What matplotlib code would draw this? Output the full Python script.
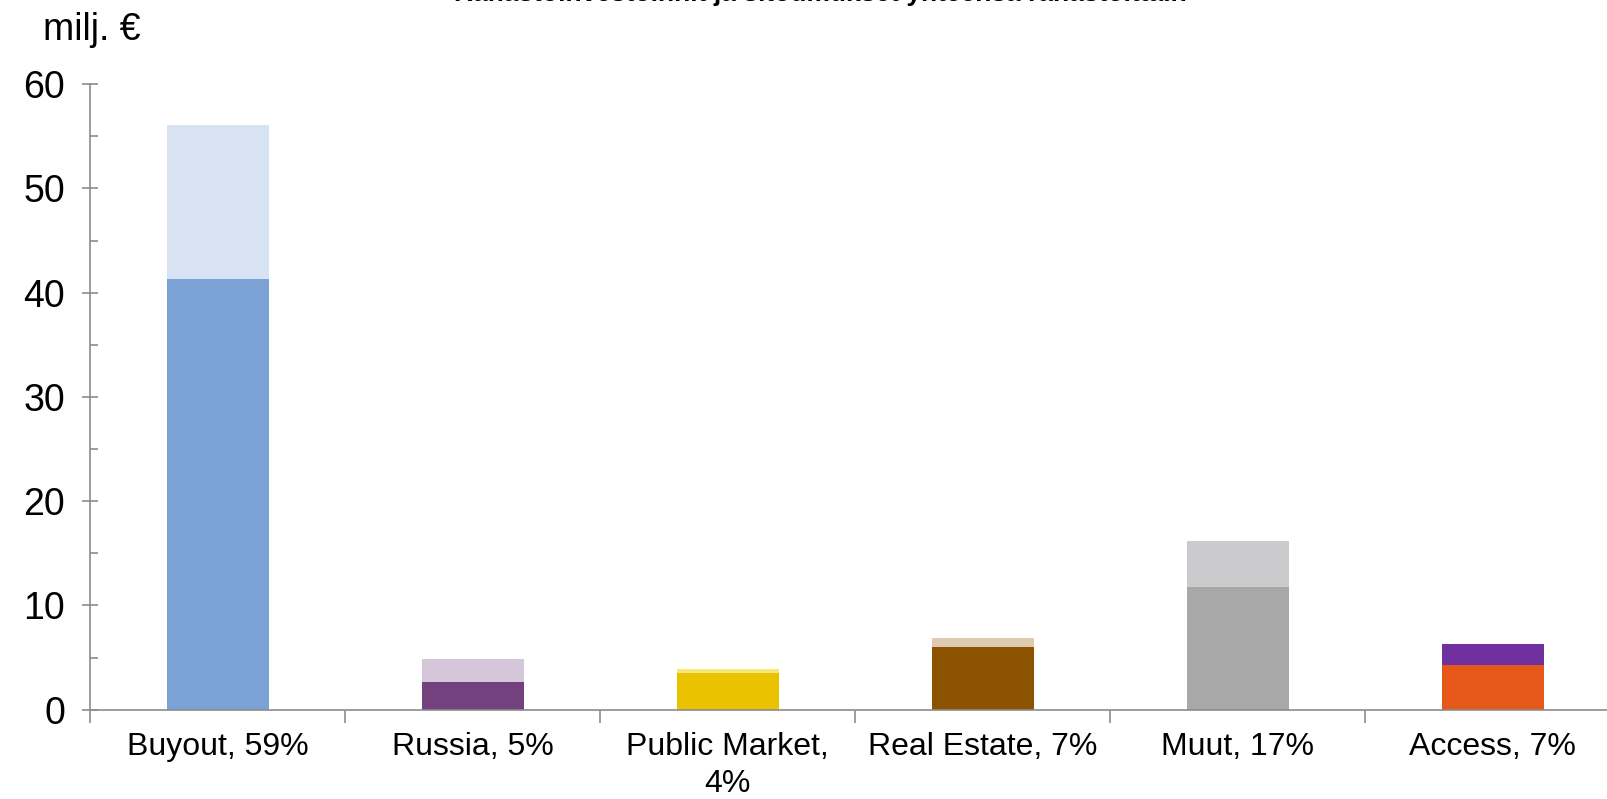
import matplotlib.pyplot as plt
import numpy as np
from matplotlib.ticker import MultipleLocator

plt.rcParams['font.family'] = ['Liberation Sans', 'DejaVu Sans']

categories = ['Buyout, 59%', 'Russia, 5%', 'Public Market,\n4%', 'Real Estate, 7%', 'Muut, 17%', 'Access, 7%']
base_values = [41.3, 2.7, 3.5, 6.0, 11.8, 4.3]
total_values = [56.1, 4.9, 3.9, 6.9, 16.2, 6.3]
base_colors = ['#7AA2D4', '#73417E', '#EBC200', '#8B5300', '#A8A8A8', '#E6571A']
top_colors = ['#D7E3F2', '#D6C6DA', '#F7E67A', '#DECBB2', '#CBCBCD', '#70309F']

TITLE = 'Rahastoinvestoinnit ja sitoumukset yhteensä rahastoittain'
AXIS_GRAY = '#8C8C8C'


def drawChart():
    fig = plt.figure(figsize=(16.08, 7.99), dpi=100)
    ax = fig.add_axes([0.0561, 0.1118, 0.9515, 0.7829])

    x = np.arange(len(categories))
    top_part = np.array(total_values) - np.array(base_values)
    ax.bar(x, base_values, width=0.4, color=base_colors, zorder=2)
    ax.bar(x, top_part, width=0.4, bottom=base_values, color=top_colors, zorder=2)

    ax.set_xlim(-0.5, len(categories) - 0.5)
    ax.set_ylim(0, 60)

    # y axis: majors cross the spine, minors on the inside
    ax.yaxis.set_major_locator(MultipleLocator(10))
    ax.yaxis.set_minor_locator(MultipleLocator(5))
    ax.tick_params(axis='y', which='major', direction='inout', length=12, width=1.2,
                   color=AXIS_GRAY, labelsize=27, pad=12)
    ax.tick_params(axis='y', which='minor', direction='in', length=6, width=1.2, color=AXIS_GRAY)

    # x axis: ticks between categories, labels centered under bars
    ax.set_xticks(np.arange(len(categories) + 1) - 0.5)
    ax.set_xticklabels([])
    ax.set_xticks(x, minor=True)
    ax.set_xticklabels(categories, minor=True, linespacing=1.3)
    ax.tick_params(axis='x', which='major', direction='out', length=9, width=1.2, color=AXIS_GRAY)
    ax.tick_params(axis='x', which='minor', length=0, labelsize=23, pad=16)

    for side in ['top', 'right']:
        ax.spines[side].set_visible(False)
    for side in ['left', 'bottom']:
        ax.spines[side].set_color(AXIS_GRAY)
        ax.spines[side].set_linewidth(1.2)

    fig.text(0.027, 1 - 30 / 799, 'milj. €', fontsize=27, va='center', ha='left')
    # title is mostly cut off by the top edge in the original
    fig.text(0.51, 1 - 1.5 / 799, TITLE, fontsize=19, fontweight='bold',
             va='baseline', ha='center')

    fig.savefig('out.png', dpi=100)


drawChart()
